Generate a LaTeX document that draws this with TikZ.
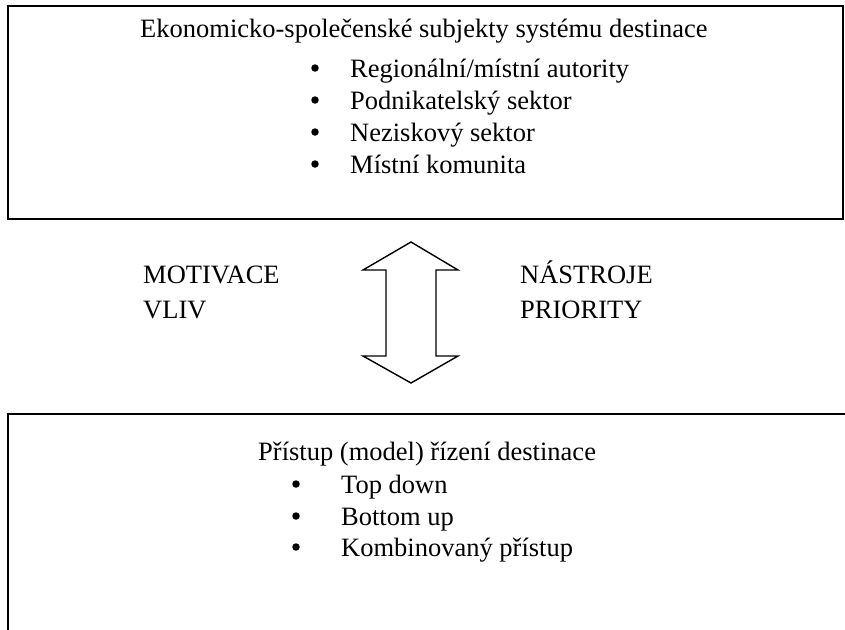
\documentclass[tikz,border=0pt]{standalone}
\usepackage{fontspec}
\setmainfont{Liberation Serif}
\begin{document}
\begin{tikzpicture}[x=1pt,y=-1pt,
  txt/.style={font=\fontsize{26.5}{30}\selectfont, inner sep=0pt, anchor=base west},
  bul/.style={circle, fill=black, inner sep=0pt, minimum size=7.5pt},
  frame/.style={draw=black, line width=2.2pt},
  blockarrow/.style={draw=black, line width=1.4pt, fill=white, line join=miter}]
\useasboundingbox (0,0) rectangle (845,629);
\clip (0,0) rectangle (845,629);

% upper frame: actors of the destination system
\draw[frame] (8,6) rectangle (843,219);
\node[txt] (t0) at (140,37) {Ekonomicko-společenské subjekty systému destinace};
\node[bul] (b1) at (315,68) {};
\node[txt] (t1) at (350,77) {Regionální/místní autority};
\node[bul] (b2) at (315,100) {};
\node[txt] (t2) at (350,109) {Podnikatelský sektor};
\node[bul] (b3) at (315,132) {};
\node[txt] (t3) at (350,141) {Neziskový sektor};
\node[bul] (b4) at (315,164) {};
\node[txt] (t4) at (350,173) {Místní komunita};

% side labels
\node[txt] (m1) at (143,283) {MOTIVACE};
\node[txt] (m2) at (143,318) {VLIV};
\node[txt] (n1) at (520,283) {NÁSTROJE};
\node[txt] (n2) at (520,318) {PRIORITY};

% double-headed block arrow
\coordinate (up) at (411,242);
\coordinate (dn) at (411,383);
\draw[blockarrow] (up) -- (458,270) -- (436,270) -- (436,356) -- (458,356)
  -- (dn) -- (363,356) -- (386,356) -- (386,270) -- (363,270) -- cycle;

% lower frame: management approach
\draw[frame] (8,414) rectangle (880,700);
\node[txt] (s0) at (258,460) {Přístup (model) řízení destinace};
\node[bul] (c1) at (296,484) {};
\node[txt] (s1) at (341,493) {Top down};
\node[bul] (c2) at (296,516) {};
\node[txt] (s2) at (341,525) {Bottom up};
\node[bul] (c3) at (296,547) {};
\node[txt] (s3) at (341,556) {Kombinovaný přístup};
\end{tikzpicture}
\end{document}
